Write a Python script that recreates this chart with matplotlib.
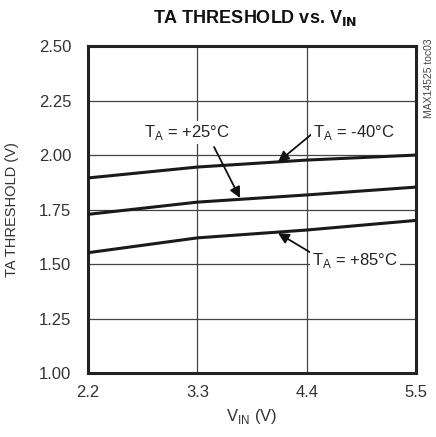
import matplotlib
matplotlib.use('Agg')
import matplotlib.pyplot as plt

# data
vin = [2.2, 3.3, 4.4, 5.5]
th_m40 = [1.895, 1.945, 1.977, 2.000]
th_25 = [1.728, 1.784, 1.817, 1.853]
th_85 = [1.552, 1.620, 1.656, 1.700]
x_ticks = [2.2, 3.3, 4.4, 5.5]
y_ticks = [1.00, 1.25, 1.50, 1.75, 2.00, 2.25, 2.50]

plt.rcParams['font.family'] = ['Liberation Sans', 'DejaVu Sans']

fig = plt.figure(figsize=(4.36, 4.37), dpi=100)
ax = fig.add_axes([0.202, 0.1465, 0.752, 0.748])

for ys in (th_m40, th_25, th_85):
    ax.plot(vin, ys, color='#1a1a1a', linewidth=2.2, zorder=3)

ax.set_xlim(2.2, 5.5)
ax.set_ylim(1.0, 2.5)
ax.set_xticks(x_ticks)
ax.set_xticklabels([f'{v:.1f}' for v in x_ticks])
ax.set_yticks(y_ticks)
ax.set_yticklabels([f'{v:.2f}' for v in y_ticks])
ax.tick_params(axis='y', length=0, labelsize=12, pad=12, colors='#333333')
ax.tick_params(axis='x', length=0, labelsize=12, pad=9, colors='#333333')
ax.grid(True, color='#444444', linewidth=0.9)
for s in ax.spines.values():
    s.set_linewidth(2.2)
    s.set_color('#222222')

ax.set_xlabel(r'V$_\mathregular{IN}$ (V)', fontsize=12, color='#333333', labelpad=5)
ax.set_ylabel('TA THRESHOLD (V)', fontsize=10.5, color='#333333', labelpad=14)
fig.text(0.585, 0.958, r'TA THRESHOLD vs. V$_\mathbf{IN}$', ha='center', va='center',
         fontsize=13, fontweight='bold', color='#111111')
fig.text(0.983, 0.82, 'MAX14525 toc03', rotation=90, ha='center', va='center',
         fontsize=7.5, color='#444444')

box = dict(facecolor='white', edgecolor='none', pad=1.5)
arrow = dict(arrowstyle='-|>', color='#111111', lw=1.3, mutation_scale=16, shrinkA=0, shrinkB=0)
lbl = dict(fontsize=12, ha='center', va='center', color='#222222', bbox=box, zorder=5)

ax.annotate('', xy=(3.729, 1.803), xytext=(3.468, 2.037), arrowprops=arrow, zorder=4)
ax.text(3.196, 2.105, r'T$_\mathregular{A}$ = +25°C', **lbl)
ax.annotate('', xy=(4.112, 1.968), xytext=(4.474, 2.105), arrowprops=arrow, zorder=4)
ax.text(4.876, 2.105, r'T$_\mathregular{A}$ = -40°C', **lbl)
ax.annotate('', xy=(4.112, 1.642), xytext=(4.514, 1.532), arrowprops=arrow, zorder=4)
ax.text(4.886, 1.518, r'T$_\mathregular{A}$ = +85°C', **lbl)

fig.savefig('out.png', dpi=100)
